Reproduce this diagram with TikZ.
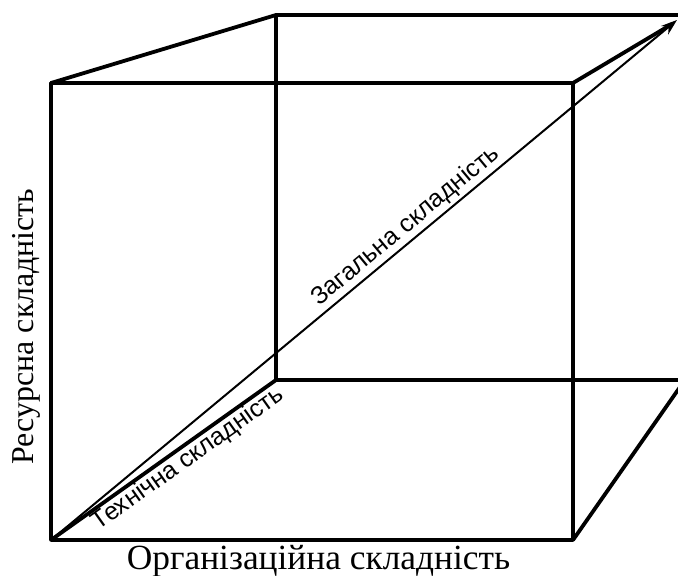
\documentclass[tikz,border=0pt]{standalone}
\usepackage{fontspec}
\setmainfont{Liberation Serif}
\newfontfamily\arialf{Liberation Sans}
\usetikzlibrary{arrows.meta}
\begin{document}
\begin{tikzpicture}[x=1bp,y=-1bp,
  edge/.style={line width=3.8bp, line cap=round, line join=round},
  thinline/.style={line width=2bp},
  serifl/.style={inner sep=0pt},
  sansl/.style={font=\arialf\fontsize{25}{28}\selectfont, inner sep=2bp}]
\useasboundingbox (0,0) rectangle (678,576);
\coordinate (ftl) at (51,83);
\coordinate (ftr) at (573,83);
\coordinate (fbl) at (51,540);
\coordinate (fbr) at (573,540);
\coordinate (btl) at (276,15);
\coordinate (bbl) at (276,380);
\coordinate (btr) at (680,15);
\coordinate (bbr) at (680,380);
\coordinate (tip) at (677,20);
\coordinate (trd) at (672,24);
\coordinate (brd) at (680,387);
% front face
\draw[edge] (ftl) -- (ftr) -- (fbr) -- (fbl) -- cycle;
% back face
\draw[edge] (btr) -- (btl) -- (bbl) -- (bbr);
% depth edges
\draw[edge] (ftl) -- (btl);
\draw[edge] (fbl) -- (bbl);
\draw[edge] (ftr) -- (trd);
\draw[edge] (fbr) -- (brd);
% diagonal arrow
\draw[thinline, -{Stealth[length=16bp,width=11bp]}] (fbl) -- (tip);
% labels
\path (fbl) -- (tip) node[pos=0.582, sloped, above, sansl, yshift=1bp] (gen) {Загальна складність};
\path (fbl) -- (bbl) node[pos=0.575, sloped, below, sansl] (tech) {Технічна складність};
\node[serifl, rotate=90, anchor=base, font=\fontsize{32}{36}\selectfont] (res) at (33,326.5) {Ресурсна складність};
\node[serifl, anchor=base, font=\fontsize{35.5}{38}\selectfont] (org) at (318.5,569.5) {Організаційна складність};
\end{tikzpicture}
\end{document}
